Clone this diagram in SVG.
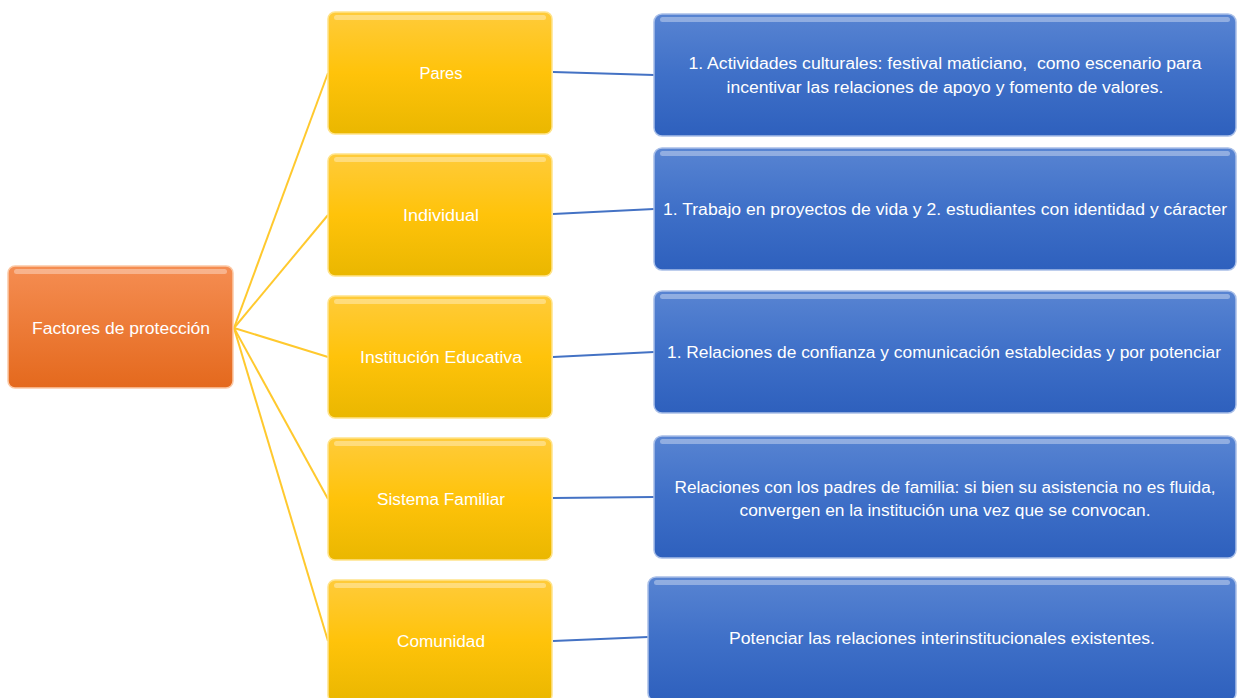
<svg xmlns="http://www.w3.org/2000/svg" width="1238" height="698" viewBox="0 0 1238 698">
<defs>
<linearGradient id="gO" x1="0" y1="0" x2="0" y2="1"><stop offset="0" stop-color="#F58D52"/><stop offset="1" stop-color="#E4691D"/></linearGradient>
<linearGradient id="gY" x1="0" y1="0" x2="0" y2="1"><stop offset="0" stop-color="#FFCB3A"/><stop offset="0.5" stop-color="#FFC30A"/><stop offset="1" stop-color="#EAB700"/></linearGradient>
<linearGradient id="gB" x1="0" y1="0" x2="0" y2="1"><stop offset="0" stop-color="#5884D2"/><stop offset="0.5" stop-color="#3F70C8"/><stop offset="1" stop-color="#2E60BD"/></linearGradient>
<style>
.t{font-family:"Liberation Sans",Arial,sans-serif;font-size:16px;fill:#FFFFFF;text-anchor:middle;dominant-baseline:central;white-space:pre}
.o{fill:url(#gO);stroke:#FBC9A6;stroke-width:1.5}
.y{fill:url(#gY);stroke:#FFE38A;stroke-width:1.5}
.b{fill:url(#gB);stroke:#A9BFE8;stroke-width:1.5}
.hl{fill:#FFFFFF;opacity:0.35}
.cy{stroke:#FFC92E;stroke-width:2;fill:none}
.cb{stroke:#4472C4;stroke-width:2;fill:none}
</style>
</defs>
<rect width="1238" height="698" fill="#FFFFFF"/>
<g id="connectors">
<line class="cy" x1="234" y1="328" x2="328" y2="73"/>
<line class="cy" x1="234" y1="328" x2="328" y2="215"/>
<line class="cy" x1="234" y1="328" x2="328" y2="357"/>
<line class="cy" x1="234" y1="328" x2="328" y2="499"/>
<line class="cy" x1="234" y1="328" x2="328" y2="641"/>
<line class="cb" x1="553" y1="72" x2="654" y2="75"/>
<line class="cb" x1="553" y1="214" x2="654" y2="209"/>
<line class="cb" x1="553" y1="357" x2="654" y2="352"/>
<line class="cb" x1="553" y1="498" x2="654" y2="497"/>
<line class="cb" x1="553" y1="641" x2="648" y2="637"/>
</g>
<g id="n-factores">
<rect class="o" x="8" y="266" width="225" height="122" rx="7"/>
<rect class="hl" x="14" y="269" width="213" height="5" rx="2.5"/>
<text class="t" x="121" y="328" textLength="178" lengthAdjust="spacingAndGlyphs">Factores de protección</text>
</g>
<g id="n-pares">
<rect class="y" x="328" y="12" width="224" height="122" rx="7"/>
<rect class="hl" x="334" y="15" width="212" height="5" rx="2.5"/>
<text class="t" x="441" y="73" textLength="43" lengthAdjust="spacingAndGlyphs">Pares</text>
</g>
<g id="n-individual">
<rect class="y" x="328" y="154" width="224" height="122" rx="7"/>
<rect class="hl" x="334" y="157" width="212" height="5" rx="2.5"/>
<text class="t" x="441" y="215" textLength="76" lengthAdjust="spacingAndGlyphs">Individual</text>
</g>
<g id="n-institucion">
<rect class="y" x="328" y="296" width="224" height="122" rx="7"/>
<rect class="hl" x="334" y="299" width="212" height="5" rx="2.5"/>
<text class="t" x="441" y="357" textLength="162" lengthAdjust="spacingAndGlyphs">Institución Educativa</text>
</g>
<g id="n-familiar">
<rect class="y" x="328" y="438" width="224" height="122" rx="7"/>
<rect class="hl" x="334" y="441" width="212" height="5" rx="2.5"/>
<text class="t" x="441" y="499" textLength="128" lengthAdjust="spacingAndGlyphs">Sistema Familiar</text>
</g>
<g id="n-comunidad">
<rect class="y" x="328" y="580" width="224" height="122" rx="7"/>
<rect class="hl" x="334" y="583" width="212" height="5" rx="2.5"/>
<text class="t" x="441" y="641" textLength="88" lengthAdjust="spacingAndGlyphs">Comunidad</text>
</g>
<g id="b-pares">
<rect class="b" x="654" y="14" width="582" height="122" rx="8"/>
<rect class="hl" x="660" y="17" width="570" height="5" rx="2.5"/>
<text class="t" x="945" y="63" textLength="513" lengthAdjust="spacingAndGlyphs">1. Actividades culturales: festival maticiano,  como escenario para</text>
<text class="t" x="945" y="87" textLength="437" lengthAdjust="spacingAndGlyphs">incentivar las relaciones de apoyo y fomento de valores.</text>
</g>
<g id="b-individual">
<rect class="b" x="654" y="148" width="582" height="122" rx="8"/>
<rect class="hl" x="660" y="151" width="570" height="5" rx="2.5"/>
<text class="t" x="945" y="209" textLength="564" lengthAdjust="spacingAndGlyphs">1. Trabajo en proyectos de vida y 2. estudiantes con identidad y cáracter</text>
</g>
<g id="b-institucion">
<rect class="b" x="654" y="291" width="582" height="122" rx="8"/>
<rect class="hl" x="660" y="294" width="570" height="5" rx="2.5"/>
<text class="t" x="944" y="352" textLength="554" lengthAdjust="spacingAndGlyphs">1. Relaciones de confianza y comunicación establecidas y por potenciar</text>
</g>
<g id="b-familiar">
<rect class="b" x="654" y="436" width="582" height="122" rx="8"/>
<rect class="hl" x="660" y="439" width="570" height="5" rx="2.5"/>
<text class="t" x="945" y="487" textLength="541" lengthAdjust="spacingAndGlyphs">Relaciones con los padres de familia: si bien su asistencia no es fluida,</text>
<text class="t" x="945" y="510" textLength="411" lengthAdjust="spacingAndGlyphs">convergen en la institución una vez que se convocan.</text>
</g>
<g id="b-comunidad">
<rect class="b" x="648" y="577" width="588" height="124" rx="8"/>
<rect class="hl" x="654" y="580" width="576" height="5" rx="2.5"/>
<text class="t" x="942" y="638" textLength="426" lengthAdjust="spacingAndGlyphs">Potenciar las relaciones interinstitucionales existentes.</text>
</g>
</svg>
